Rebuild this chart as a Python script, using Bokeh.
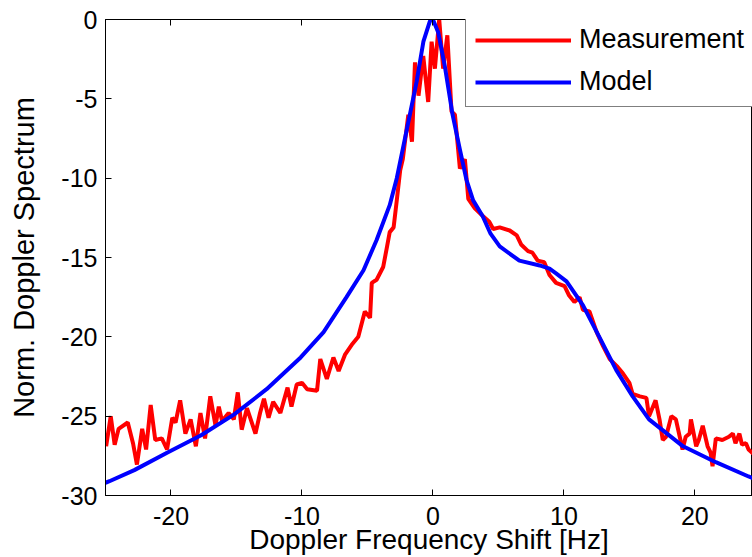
from bokeh.plotting import figure
from bokeh.models import (Range1d, FixedTicker, LinearAxis, Legend, LegendItem)
from bokeh.embed import file_html
from bokeh.resources import INLINE

# Measurement (red) - Doppler shift [Hz] and normalised spectrum [dB]
meas_x = [-24.95, -24.6, -24.3, -24.0, -23.3, -22.9, -22.6, -22.2, -21.9, -21.55,
          -21.2, -20.7, -20.3, -19.9, -19.65, -19.3, -18.9, -18.5, -18.1, -17.75,
          -17.4, -17.0, -16.6, -16.35, -16.1, -15.6, -15.2, -14.9, -14.6, -14.2,
          -13.55, -13.2, -12.9, -12.55, -12.2, -11.65, -11.1, -10.8, -10.4, -10.0,
          -9.6, -8.85, -8.6, -8.1, -7.6, -7.2, -6.7, -6.2, -5.7, -5.2,
          -4.8, -4.67, -4.3, -3.8, -3.5, -3.3, -3.0, -2.76, -2.5, -2.3,
          -1.88, -1.6, -1.37, -1.1, -0.74, -0.36, -0.1, 0.15, 0.48, 0.78,
          1.1, 1.42, 1.68, 2.06, 2.44, 2.7, 3.2, 3.83, 4.3, 4.6,
          5.1, 5.86, 6.4, 6.75, 7.26, 7.6, 8.0, 8.5, 8.9, 9.4,
          10.05, 10.4, 10.8, 11.2, 11.45, 11.95, 12.5, 13.0, 13.5, 14.1,
          14.5, 15.0, 15.25, 15.8, 16.3, 16.5, 17.0, 17.3, 17.55, 17.8,
          18.2, 18.55, 19.06, 19.3, 19.6, 19.7, 20.1, 20.3, 20.6, 20.97,
          21.2, 21.35, 21.6, 22.1, 22.6, 22.9, 23.1, 23.4, 23.6, 23.9,
          24.1, 24.5, 25.0]
meas_y = [-26.9, -25.0, -26.8, -25.8, -25.4, -26.7, -28.05, -25.8, -27.1, -24.3,
          -26.5, -26.4, -27.1, -25.1, -25.4, -24.0, -26.1, -25.2, -26.9, -24.8,
          -26.4, -23.75, -25.6, -24.4, -25.3, -24.8, -25.2, -23.5, -25.85, -24.5,
          -26.1, -24.8, -23.9, -25.1, -24.1, -24.8, -23.2, -24.4, -23.0, -22.9,
          -23.3, -23.4, -21.4, -22.65, -21.3, -22.15, -21.1, -20.5, -20.0, -18.4,
          -18.8, -16.6, -16.4, -15.6, -14.3, -13.4, -13.1, -11.4, -9.5, -8.8,
          -6.0, -7.7, -2.7, -4.8, -2.3, -5.2, -1.4, -3.1, 0.0, -3.1,
          -1.0, -5.8, -6.0, -9.4, -8.8, -11.3, -11.9, -12.4, -12.75, -13.2,
          -13.1, -13.3, -13.6, -14.2, -14.6, -14.7, -15.2, -15.3, -16.1, -16.6,
          -16.8, -17.4, -17.8, -17.5, -18.3, -18.4, -19.7, -20.6, -21.4, -21.9,
          -22.3, -22.9, -23.6, -23.75, -23.85, -25.0, -24.0, -25.2, -26.5, -26.3,
          -25.0, -25.2, -27.1, -26.3, -26.1, -25.2, -26.9, -26.5, -25.6, -26.9,
          -27.3, -28.15, -26.4, -26.5, -26.3, -26.1, -26.7, -26.1, -26.8, -26.7,
          -27.1, -27.4, -27.6]

# Model (blue)
model_x = [-25.0, -24.7, -22.8, -20.3, -17.7, -15.2, -12.7, -10.1, -8.35, -6.6,
           -5.3, -4.3, -3.3, -2.76, -2.26, -1.24, -0.73, -0.23, 0.0, 0.4,
           0.9, 1.5, 2.06, 2.56, 3.07, 3.8, 4.4, 5.1, 6.6, 8.15,
           8.9, 9.4, 10.2, 11.45, 12.7, 14.0, 15.25, 16.5, 19.1, 21.6,
           24.1, 25.0]
model_y = [-29.2, -29.1, -28.4, -27.3, -26.2, -24.9, -23.3, -21.3, -19.7, -17.5,
           -15.8, -13.9, -11.7, -10.0, -8.0, -3.9, -1.4, -0.1, 0.0, -0.8,
           -2.9, -6.0, -8.2, -10.1, -11.4, -12.4, -13.5, -14.3, -15.2, -15.5,
           -15.7, -16.0, -16.5, -18.0, -20.0, -22.1, -23.75, -25.2, -26.9, -27.9,
           -28.8, -29.1]

x_ticks = [-20, -10, 0, 10, 20]
y_ticks = [0, -5, -10, -15, -20, -25, -30]
series_names = ["Measurement", "Model"]

FONT = "Liberation Sans"

p = figure(width=752, height=557, output_backend="svg", toolbar_location=None,
           x_range=Range1d(-25, 24.4), y_range=Range1d(-30, 0),
           min_border_left=105, min_border_right=0, min_border_top=19,
           min_border_bottom=61)
p.background_fill_color = "white"
p.border_fill_color = "white"
p.outline_line_color = "black"
p.outline_line_width = 1
p.xgrid.visible = False
p.ygrid.visible = False

r1 = p.line(meas_x, meas_y, line_color="#ff0000", line_width=4)
r2 = p.line(model_x, model_y, line_color="#0000ff", line_width=4)

def style_axis(ax, ticks, size, label_size):
    ax.ticker = FixedTicker(ticks=ticks)
    ax.minor_tick_line_color = None
    ax.major_tick_in = 6
    ax.major_tick_out = 0
    ax.axis_line_color = "black"
    ax.major_tick_line_color = "black"
    ax.major_label_text_font = FONT
    ax.major_label_text_font_size = size
    ax.major_label_text_color = "black"
    ax.major_label_overrides = {t: str(t) for t in ticks}
    ax.axis_label_text_font = FONT
    ax.axis_label_text_font_style = "normal"
    ax.axis_label_text_font_size = label_size
    ax.axis_label_text_color = "black"

xa = p.xaxis[0]
style_axis(xa, x_ticks, "25px", "28px")
xa.axis_label = "Doppler Frequency Shift [Hz]"
xa.major_label_standoff = 11
xa.axis_label_standoff = -4

ya = p.yaxis[0]
style_axis(ya, y_ticks, "25px", "29px")
ya.axis_label = "Norm. Doppler Spectrum"
ya.major_label_standoff = 8
ya.axis_label_standoff = 18

top = LinearAxis()
style_axis(top, x_ticks, "10px", "10px")
top.major_label_overrides = {t: "" for t in x_ticks}
top.major_label_standoff = 0
p.add_layout(top, "above")

legend = Legend(items=[LegendItem(label=series_names[0], renderers=[r1]),
                       LegendItem(label=series_names[1], renderers=[r2])],
                location=(360, 388))
legend.label_text_font = FONT
legend.label_text_font_size = "27px"
legend.label_text_color = "black"
legend.glyph_width = 96
legend.glyph_height = 30
legend.label_height = 30
legend.label_standoff = 8
legend.spacing = 11
legend.padding = 9
legend.margin = 0
legend.border_line_color = "black"
legend.border_line_width = 1
legend.background_fill_color = "white"
legend.background_fill_alpha = 1
p.add_layout(legend)

open("out.html", "w").write(file_html(p, INLINE))
